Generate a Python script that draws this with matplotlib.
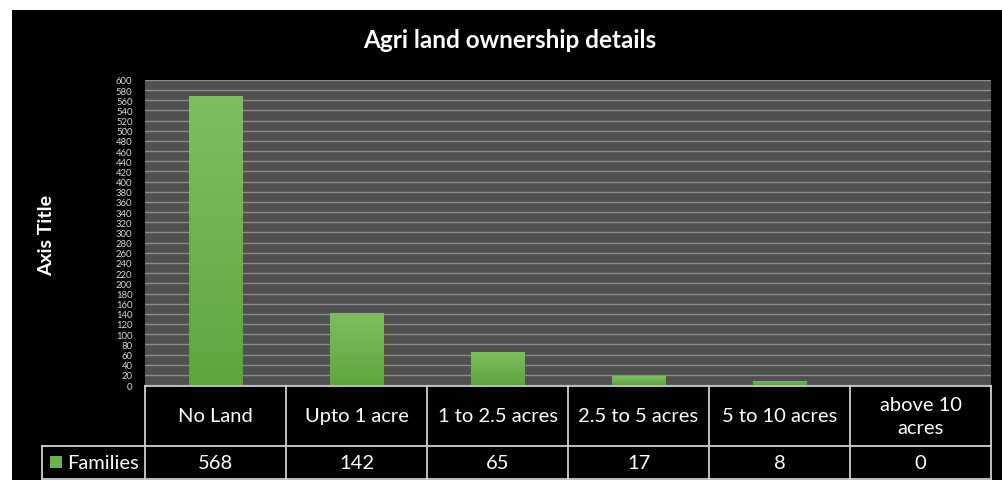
import matplotlib
matplotlib.use('Agg')
import numpy as np
import matplotlib.pyplot as plt
from matplotlib.patches import Rectangle
from matplotlib.lines import Line2D
from matplotlib.colors import LinearSegmentedColormap

categories = ['No Land', 'Upto 1 acre', '1 to 2.5 acres', '2.5 to 5 acres',
              '5 to 10 acres', 'above 10\nacres']
families = [568, 142, 65, 17, 8, 0]
series_name = 'Families'
yticks = list(range(0, 601, 20))

plt.rcParams['font.family'] = ['Lato', 'DejaVu Sans']

W, H = 1002, 481
fig = plt.figure(figsize=(W / 100, H / 100), dpi=100)
fig.patch.set_facecolor('white')

def fx(px):
    return px / W

def fy(py):
    return 1 - py / H

# black panel behind everything
fig.patches.append(Rectangle((fx(12), 0), 1 - fx(12), fy(11), transform=fig.transFigure,
                             facecolor='black', edgecolor='none', zorder=-10))

left, right, top, bottom = 145, 991, 81, 386
ax = fig.add_axes([fx(left), fy(bottom), fx(right) - fx(left), fy(top) - fy(bottom)])
ax.set_facecolor('#505050')
x = np.arange(len(categories))
bars = ax.bar(x, families, width=0.38, color='#6cb24a', zorder=3)

# soft vertical gradient on each bar, light at top
grad = LinearSegmentedColormap.from_list('g', ['#5fa53e', '#7fbe5f'])
gimg = np.linspace(0, 1, 100).reshape(-1, 1)
for b in bars:
    if b.get_height() <= 0:
        continue
    x0, w, h = b.get_x(), b.get_width(), b.get_height()
    im = ax.imshow(gimg, cmap=grad, origin='lower', aspect='auto',
                   extent=(x0, x0 + w, 0, h), zorder=4)
    im.set_clip_path(b)

ax.set_xlim(-0.5, len(categories) - 0.5)
ax.set_ylim(0, 600)
ax.set_yticks(yticks)
ax.set_yticklabels([str(v) for v in yticks], fontsize=6.8, color='#d8d8d8')
ax.tick_params(axis='y', length=0, pad=9)
ax.set_xticks([])
ax.yaxis.grid(True, color='#8c8c8c', linewidth=1.0)
ax.set_axisbelow(True)
for s in ax.spines.values():
    s.set_visible(False)

fig.text(0.509, fy(41), 'Agri land ownership details', ha='center', va='center',
         color='white', fontsize=17.5, fontweight='bold')
fig.text(fx(47), fy(235), 'Axis Title', ha='center', va='center', rotation=90,
         color='white', fontsize=14, fontweight='bold')

# data table under the plot
lc = '#d0d0d0'
colw = (right - left) / len(categories)
r0, r1, r2 = 387, 447, 480
def hline(y, x0, x1):
    fig.lines.append(Line2D([fx(x0), fx(x1)], [fy(y), fy(y)], transform=fig.transFigure,
                            color=lc, linewidth=1.3))
def vline(xp, y0, y1):
    fig.lines.append(Line2D([fx(xp), fx(xp)], [fy(y0), fy(y1)], transform=fig.transFigure,
                            color=lc, linewidth=1.3))

hline(r0, left, right)
hline(r1, 42, right)
hline(r2, 42, right)
vline(42, r1, r2)
for i in range(len(categories) + 1):
    vline(left + i * colw, r0, r2)

for i, (c, v) in enumerate(zip(categories, families)):
    cx = fx(left + (i + 0.5) * colw)
    fig.text(cx, fy((r0 + r1) / 2), c, ha='center', va='center', color='white',
             fontsize=14.5, linespacing=1.45)
    fig.text(cx, fy((r1 + r2) / 2), str(v), ha='center', va='center', color='white',
             fontsize=14.5)

fig.patches.append(Rectangle((fx(50), fy(469)), fx(12), fy(457) - fy(469),
                             transform=fig.transFigure, facecolor='#6cb24a', edgecolor='none'))
fig.text(fx(67), fy((r1 + r2) / 2), series_name, ha='left', va='center', color='white',
         fontsize=14.5)

fig.savefig('out.png', dpi=100, facecolor=fig.get_facecolor())
